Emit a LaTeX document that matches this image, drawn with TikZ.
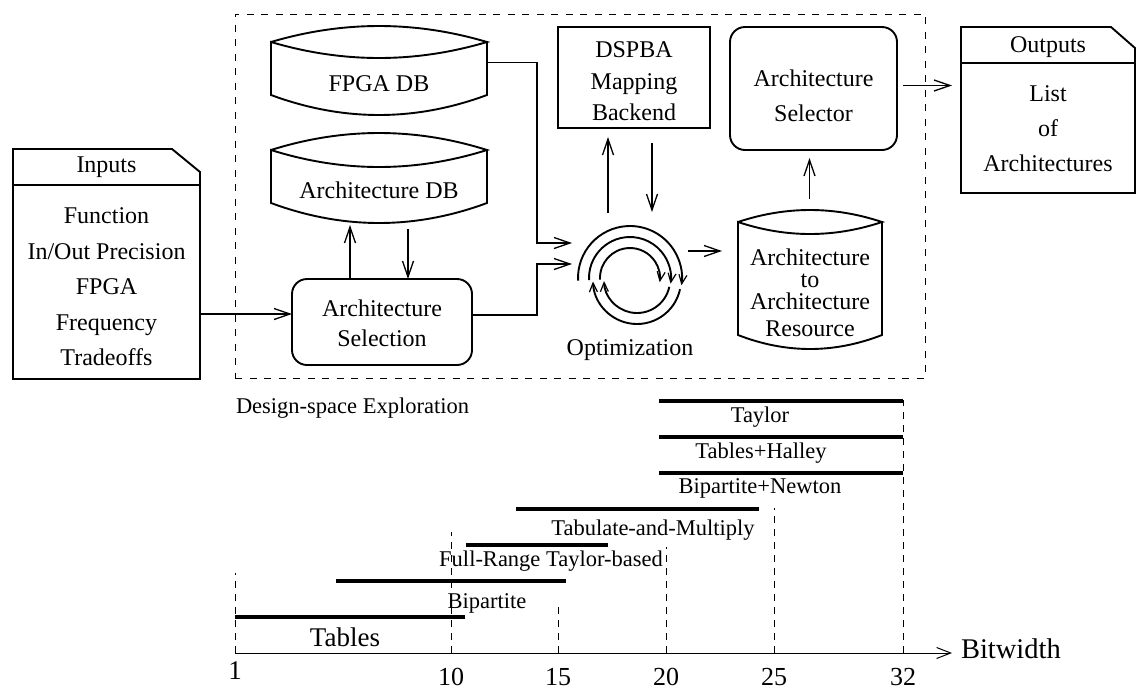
\documentclass[tikz,border=0pt]{standalone}
\usepackage{fontspec}
\setmainfont{Liberation Serif}
\usetikzlibrary{arrows.meta,calc}
\newcommand\cylshape[3]{%
  \draw[ln] (#1.north west)
    .. controls ($(#1.north west)!1/3!(#1.north east)+(0,-1.333*#2)$) and ($(#1.north west)!2/3!(#1.north east)+(0,-1.333*#2)$) .. (#1.north east)
    .. controls ($(#1.north west)!2/3!(#1.north east)+(0,1.333*#2)$) and ($(#1.north west)!1/3!(#1.north east)+(0,1.333*#2)$) .. (#1.north west)
    -- (#1.south west)
    .. controls ($(#1.south west)!1/3!(#1.south east)+(0,1.333*#3)$) and ($(#1.south west)!2/3!(#1.south east)+(0,1.333*#3)$) .. (#1.south east)
    -- (#1.north east);}
\begin{document}
\begin{tikzpicture}[x=1pt,y=-1pt,
  every node/.style={inner sep=0pt, outer sep=0pt},
  txt/.style={font=\fontsize{24}{30}\selectfont, align=center},
  lbl/.style={font=\fontsize{22.5}{24}\selectfont},
  ln/.style={line width=1.9pt},
  arr/.style={ln, -{Straight Barb[length=16pt,width=11pt,line width=1.3pt]}},
  sarr/.style={line width=1.9pt, -{Straight Barb[length=9pt,width=8pt,line width=1.2pt]}},
  frame/.style={line width=0.9pt, dash pattern=on 7pt off 7.5pt},
  bar/.style={line width=4pt},
  vgrid/.style={line width=1pt, dash pattern=on 7pt off 6pt},
  axis/.style={line width=1pt, -{Straight Barb[length=14pt,width=11pt,line width=1pt]}},
  rbox/.style={draw, ln, rounded corners=15pt},
  sbox/.style={draw, ln},
]
\useasboundingbox (0,0) rectangle (1138,689);

% design-space frame
\node[draw, frame, minimum width=690pt, minimum height=364pt] (dse) at (580,196) {};
\node[lbl, anchor=west] (dsel) at (236,408) {Design-space Exploration};

% Inputs
\node[minimum width=187pt, minimum height=230pt] (inbox) at (106.5,264) {};
\draw[ln] (inbox.north west) -- ($(inbox.north east)+(-28,0)$) -- ($(inbox.north east)+(0,23)$) -- (inbox.south east) -- (inbox.south west) -- cycle;
\draw[ln] ($(inbox.north west)+(0,36)$) -- ($(inbox.north east)+(0,36)$);
\node[txt] (inh) at (106.5,167) {Inputs};
\node[txt, font=\fontsize{24}{35.5}\selectfont] (inb) at (106.5,287) {Function\\In/Out Precision\\FPGA\\Frequency\\Tradeoffs};

% Outputs
\node[minimum width=174pt, minimum height=166pt] (outbox) at (1048,110) {};
\draw[ln] (outbox.north west) -- ($(outbox.north east)+(-24,0)$) -- ($(outbox.north east)+(0,21)$) -- (outbox.south east) -- (outbox.south west) -- cycle;
\draw[ln] ($(outbox.north west)+(0,36)$) -- ($(outbox.north east)+(0,36)$);
\node[txt] (outh) at (1048,47) {Outputs};
\node[txt, font=\fontsize{24}{35}\selectfont] (outb) at (1048,129) {List\\of\\Architectures};

% FPGA DB
\node[minimum width=216pt, minimum height=53pt] (fpga) at (379,68.5) {};
\cylshape{fpga}{16}{20}
\node[txt] (fpgat) at (379,84) {FPGA DB};

% Architecture DB
\node[minimum width=216pt, minimum height=53pt] (adb) at (379,176.5) {};
\cylshape{adb}{17}{20}
\node[txt] (adbt) at (379,190) {Architecture DB};

% Architecture Selection
\node[rbox, minimum width=180pt, minimum height=86pt] (sel) at (382,322) {};
\node[txt] (selt) at (382,323) {Architecture\\Selection};

% DSPBA
\node[sbox, minimum width=152pt, minimum height=101pt] (dsp) at (634,77.5) {};
\node[txt, font=\fontsize{24}{31.5}\selectfont] (dspt) at (634,81.5) {DSPBA\\Mapping\\Backend};

% Architecture Selector
\node[rbox, minimum width=167pt, minimum height=123pt] (slr) at (813.5,88.5) {};
\node[txt, font=\fontsize{24}{35}\selectfont] (slrt) at (813.5,95.5) {Architecture\\Selector};

% Architecture to Architecture Resource
\node[minimum width=144pt, minimum height=113pt] (ares) at (810,278.5) {};
\cylshape{ares}{12}{14}
\node[txt, font=\fontsize{24}{22}\selectfont] (arest) at (810,293) {Architecture\\to\\Architecture\\[5pt]Resource};

% Optimization
\node[circle, minimum size=104pt] (opt) at (630,278) {};
\foreach \r in {52,41,30}
  \draw[sarr] (opt.center) ++(177:\r) arc[start angle=177, end angle=368, radius=\r];
\coordinate (optb) at ($(opt.center)+(7,2)$);
\foreach \r in {44,33}
  \draw[sarr] (optb) ++(12:\r) arc[start angle=12, end angle=178, radius=\r];
\node[txt] (optt) at (630,350) {Optimization};

% connectors
\coordinate (selin) at ($(sel.west)+(0,-8)$);
\draw[arr] (inbox.east |- selin) -- (selin);
\draw[arr] ($(sel.north)+(-32,0)$) -- ($(adb.south)+(-29,22)$);
\draw[arr] ($(adb.south)+(29,26)$) -- ($(sel.north)+(26,0)$);
\coordinate (optin1) at ($(opt.west)+(-6,-35)$);
\coordinate (optin2) at ($(opt.west)+(-6,-14)$);
\draw[arr] ($(fpga.east)+(0,-6)$) -| ($(optin1)+(-35,0)$) -- (optin1);
\draw[arr] ($(sel.east)+(0,-7)$) -| ($(optin2)+(-35,0)$) -- (optin2);
\draw[arr] ($(dsp.south)+(-26,85)$) -- ($(dsp.south)+(-26,9)$);
\draw[arr] ($(dsp.south)+(18,15)$) -- ($(dsp.south)+(18,84)$);
\coordinate (optout) at ($(opt.east)+(6,-27)$);
\draw[arr] (optout) -- ($(ares.west |- optout)+(-16,0)$);
\draw[arr] ($(slr.south)+(-4,49)$) -- ($(slr.south)+(-4,8)$);
\coordinate (slrout) at ($(slr.east)+(6,-3)$);
\draw[arr] (slrout) -- ($(outbox.west |- slrout)+(-9,0)$);

% timeline
\node[font=\fontsize{28.5}{30}\selectfont, anchor=west] (bw) at (961,649) {Bitwidth};
\coordinate (t1) at (235,653);
\coordinate (t10) at (451,653);
\coordinate (t15) at (558,653);
\coordinate (t20) at (666,653);
\coordinate (t25) at (774,653);
\coordinate (t32) at (903,653);
\draw[vgrid] (t1) -- (235,573);
\draw[vgrid] (t10) -- (451,532);
\draw[vgrid] (t15) -- (558,606);
\draw[vgrid] (t20) -- (666,547);
\draw[vgrid] (t25) -- (774,508);
\draw[vgrid] (t32) -- (903,400);
\draw[axis] (t1) -- ($(bw.west |- t1)+(-9,0)$);
\node[font=\fontsize{27}{28}\selectfont] (l1) at (235,671) {1};
\node[font=\fontsize{26}{28}\selectfont] (l10) at (451,677) {10};
\node[font=\fontsize{26}{28}\selectfont] (l15) at (558,677) {15};
\node[font=\fontsize{26}{28}\selectfont] (l20) at (666,677) {20};
\node[font=\fontsize{26}{28}\selectfont] (l25) at (774,677) {25};
\node[font=\fontsize{26}{28}\selectfont] (l32) at (903,677) {32};

\draw[bar] (235,617) -- (465,617);
\node[font=\fontsize{27}{28}\selectfont] (btab) at (345,637) {Tables};
\draw[bar] (336,581) -- (566,581);
\node[lbl] (bbip) at (487,603) {Bipartite};
\draw[bar] (466,545) -- (608,545);
\node[lbl] (bfrt) at (551,561) {Full-Range Taylor-based};
\draw[bar] (516,509) -- (759,509);
\node[lbl] (btam) at (653,530) {Tabulate-and-Multiply};
\draw[bar] (659,473) -- (903,473);
\node[lbl] (bbn) at (760,488) {Bipartite+Newton};
\draw[bar] (659,437) -- (903,437);
\node[lbl] (bth) at (761,453) {Tables+Halley};
\draw[bar] (659,401) -- (903,401);
\node[lbl] (bt) at (760,417) {Taylor};
\end{tikzpicture}
\end{document}
